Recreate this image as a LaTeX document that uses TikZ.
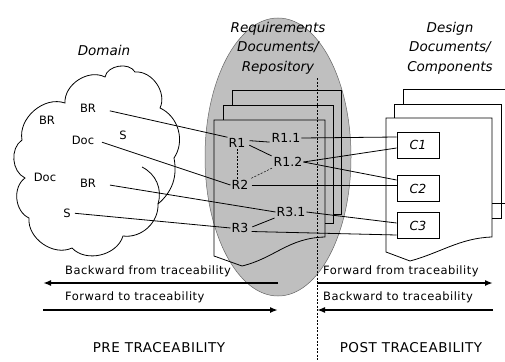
\documentclass[tikz,border=0pt]{standalone}
\usepackage{fontspec}
\setmainfont{DejaVu Sans}
\newfontfamily\widefont[LetterSpace=4]{DejaVu Sans}
\usetikzlibrary{arrows.meta}

\begin{document}
\begin{tikzpicture}[x=1pt,y=-1pt,
  every node/.style={inner sep=1pt},
  title/.style={font=\fontsize{13.5}{19.5}\selectfont\itshape, align=center},
  rlabel/.style={font=\fontsize{12.5}{12.5}\selectfont},
  dlabel/.style={font=\fontsize{11.5}{11.5}\selectfont},
  cbox/.style={draw, fill=white, line width=0.8pt, minimum width=42pt,
    minimum height=26pt, font=\fontsize{12.5}{12.5}\selectfont\itshape},
  page/.style={draw, line width=0.8pt},
  link/.style={draw, line width=0.8pt},
  weak/.style={draw, line width=0.5pt, dash pattern=on 2pt off 1.5pt},
  flow/.style={draw, line width=1.8pt, -{Latex[length=8pt,width=6pt]}},
  flowtext/.style={anchor=west, font=\widefont\fontsize{11.5}{11.5}\selectfont},
  phase/.style={font=\widefont\fontsize{13.5}{13.5}\selectfont}]
\useasboundingbox (0,0) rectangle (505,361);

% requirements repository
\filldraw[fill=black!25, draw=black!60, line width=0.5pt]
  (278,157) ellipse [x radius=73, y radius=139];
\node[title] at (278,48) {Requirements\\Documents/\\Repository};

% stack of requirement pages
\draw[page] (333,214) -- (341,214) -- (341,90) -- (232,90) -- (232,105);
\draw[page] (325,223) -- (333,223) -- (333,105) -- (223,105) -- (223,120);
\draw[page] (325,120) -- (214,120) -- (214,256) -- (242,266)
  .. controls (275,258) and (288,238) .. (325,237) -- cycle;

% separator between pre and post traceability
\draw[line width=0.5pt, dash pattern=on 2pt off 1.5pt] (317,78) -- (317,361);

% design documents
\node[title] at (450,48) {Design\\Documents/\\Components};
\draw[page] (492,203) -- (512,203) -- (512,89) -- (403,89) -- (403,104);
\draw[page] (492,218) -- (501,218) -- (501,104) -- (394,104) -- (394,118);
\draw[page] (492,118) -- (386,118) -- (386,252) -- (410,261)
  .. controls (440,253) and (460,238) .. (492,237) -- cycle;

% domain cloud
\node[title] at (104,50) {Domain};
\draw[line width=0.8pt]
  (22,140) to[bend left=60] (65,103)
  to[bend left=60] (105,77)
  to[bend left=70] (135,72)
  to[bend left=60] (160,108)
  to[bend left=50] (174,158)
  to[bend left=30] (158,204)
  to[bend left=50] (123,236)
  to[bend left=60] (72,248)
  to[bend left=60] (29,218)
  to[bend left=60] (25,178)
  to[bend left=60] cycle;
\draw[line width=0.8pt] (142,167) to[bend left=40] (158,204);

\node[dlabel] (br1) at (47,120) {BR};
\node[dlabel] (br2) at (88,108) {BR};
\node[dlabel] (s1) at (123,135) {S};
\node[dlabel] (doc1) at (83,140) {Doc};
\node[dlabel] (doc2) at (45,177) {Doc};
\node[dlabel] (br3) at (88,183) {BR};
\node[dlabel] (s2) at (67,213) {S};

% requirements
\node[rlabel] (r1) at (237,143) {R1};
\node[rlabel] (r11) at (286,138) {R1.1};
\node[rlabel] (r12) at (288,162) {R1.2};
\node[rlabel] (r2) at (240,185) {R2};
\node[rlabel] (r31) at (291,212) {R3.1};
\node[rlabel] (r3) at (240,228) {R3};

% components
\node[cbox] (c1) at (418,145) {C1};
\node[cbox] (c2) at (418,188.5) {C2};
\node[cbox] (c3) at (418,225.5) {C3};

% domain to requirements
\draw[link, shorten <=13pt] (br2.east) -- (r1.north west);
\draw[link, shorten <=7pt] (doc1.east) -- (r2.west);
\draw[link, shorten <=13pt] (br3.east) -- (r31.west);
\draw[link, shorten <=3pt] (s2.east) -- (r3.west);

% within the requirements
\draw[link, shorten <=3pt, shorten >=1pt] (r1.15) -- (r11.195);
\draw[link, shorten <=3pt, shorten >=1pt] (r1.-5) -- (r12.160);
\draw[weak] (r1.south) -- (r1.south |- r2.north);
\draw[weak, shorten <=2pt] (r2.north east) -- (r12.south west);
\draw[link, shorten <=3pt, shorten >=1pt] (r3.east) -- (r31.200);

% requirements to components
\draw[link] (r11.east) -- ([yshift=8pt]c1.west);
\draw[link] (r12.east) -- ([yshift=-3pt]c1.west);
\draw[link] (r12.east) -- ([yshift=8.5pt]c2.west);
\draw[link, shorten <=2pt] (r2.east) -- ([yshift=3.5pt]c2.west);
\draw[link] (r31.east) -- ([yshift=2.5pt]c3.west);
\draw[link, shorten <=2pt] (r3.-20) -- ([yshift=-9.5pt]c3.west);

% traceability directions
\coordinate (pl1) at (278,283);
\coordinate (pl0) at (43,283);
\coordinate (pl2) at (43,310);
\coordinate (pl3) at (278,310);
\coordinate (po0) at (317,283);
\coordinate (po1) at (493,283);
\coordinate (po3) at (493,310);
\coordinate (po2) at (317,310);

\node[flowtext] at (64,271) {Backward from traceability};
\draw[flow] (pl1) -- (pl0);
\node[flowtext] at (64,297) {Forward to traceability};
\draw[flow] (pl2) -- (pl3);
\node[flowtext] at (322,271) {Forward from traceability};
\draw[flow] (po0) -- (po1);
\node[flowtext] at (322,297) {Backward to traceability};
\draw[flow] (po3) -- (po2);

\node[phase] at (159,348) {PRE TRACEABILITY};
\node[phase] at (411,348) {POST TRACEABILITY};
\end{tikzpicture}
\end{document}
